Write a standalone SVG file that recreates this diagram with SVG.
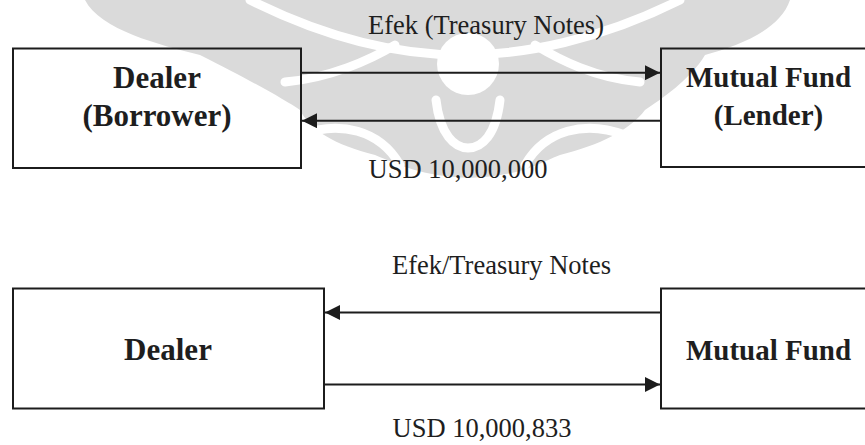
<svg xmlns="http://www.w3.org/2000/svg" width="865" height="445" viewBox="0 0 865 445">
  <style>
    .box { fill: none; stroke: #1c1c1c; stroke-width: 2; }
    .flow { stroke: #1c1c1c; stroke-width: 2; fill: none; }
    .label { font-family: "Liberation Serif", "Times New Roman", serif; font-size: 26.5px; fill: #1e1e1e; text-anchor: middle; }
    .name { font-family: "Liberation Serif", "Times New Roman", serif; font-weight: bold; fill: #1e1e1e; text-anchor: middle; }
    .wm { fill: #dadada; }
    .wm-cut { fill: none; stroke: #ffffff; stroke-width: 9; stroke-linecap: round; }
  </style>
  <defs>
    <marker id="head" markerUnits="userSpaceOnUse" markerWidth="15" markerHeight="15" refX="15" refY="7.5" orient="auto">
      <path d="M0,0 L15,7.5 L0,15 Z" fill="#1c1c1c"/>
    </marker>
  </defs>

  <rect width="865" height="445" fill="#ffffff"/>

  <!-- faint emblem behind the upper diagram -->
  <g id="watermark">
    <path class="wm" d="M85,0 H790 C780,30 740,45 705,55 C690,80 660,100 645,110 C630,130 600,145 560,155 C535,165 520,176 470,178 C420,176 400,165 375,155 C335,145 310,130 300,110 C285,100 250,80 200,55 C160,45 100,30 85,0 Z"/>
    <path class="wm-cut" d="M250,0 C330,40 400,55 462,55 C524,55 600,40 680,0"/>
    <path class="wm-cut" d="M285,82 C330,78 370,60 395,45"/>
    <path class="wm-cut" d="M640,82 C595,78 560,60 535,45"/>
    <path class="wm-cut" d="M300,135 C340,120 380,130 400,165"/>
    <path class="wm-cut" d="M625,135 C585,120 545,130 525,165"/>
    <circle cx="468" cy="64" r="31" fill="#ffffff"/>
    <path class="wm-cut" d="M436,100 C440,135 455,148 468,148 C482,148 496,135 500,100"/>
  </g>

  <g id="connectors">
    <line class="flow" x1="301" y1="72.7" x2="660" y2="72.7" marker-end="url(#head)"/>
    <line class="flow" x1="661" y1="120.7" x2="302" y2="120.7" marker-end="url(#head)"/>
    <line class="flow" x1="661" y1="312.5" x2="325" y2="312.5" marker-end="url(#head)"/>
    <line class="flow" x1="324" y1="384.5" x2="660" y2="384.5" marker-end="url(#head)"/>
    <text class="label" x="486" y="34">Efek (Treasury Notes)</text>
    <text class="label" x="458" y="178.3">USD 10,000,000</text>
    <text class="label" x="501.5" y="273.5">Efek/Treasury Notes</text>
    <text class="label" x="482" y="437">USD 10,000,833</text>
  </g>

  <g id="dealer-borrower">
    <rect class="box" x="13" y="48.5" width="288" height="119.5"/>
    <text class="name" x="157" y="88" font-size="31">Dealer</text>
    <text class="name" x="157" y="126" font-size="31">(Borrower)</text>
  </g>

  <g id="fund-lender">
    <rect class="box" x="661" y="48.5" width="220" height="118.5"/>
    <text class="name" x="768.5" y="87" font-size="29">Mutual Fund</text>
    <text class="name" x="768.5" y="125" font-size="29">(Lender)</text>
  </g>

  <g id="dealer">
    <rect class="box" x="13" y="288.5" width="311" height="120"/>
    <text class="name" x="168" y="360" font-size="31">Dealer</text>
  </g>

  <g id="fund">
    <rect class="box" x="661" y="288.5" width="220" height="120"/>
    <text class="name" x="768.5" y="360" font-size="29">Mutual Fund</text>
  </g>
</svg>
